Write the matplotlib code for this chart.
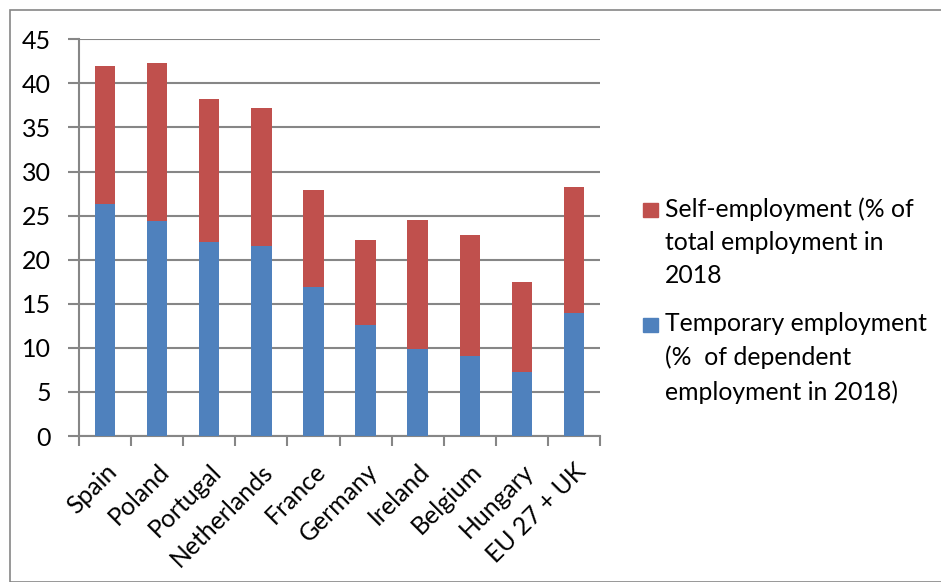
import matplotlib.pyplot as plt
from matplotlib.patches import Rectangle
import numpy as np

plt.rcParams['font.family'] = ['Lato', 'DejaVu Sans']

countries = ["Spain", "Poland", "Portugal", "Netherlands", "France",
             "Germany", "Ireland", "Belgium", "Hungary", "EU 27 + UK"]
temporary = [26.3, 24.4, 22.0, 21.6, 16.9, 12.55, 9.9, 9.05, 7.3, 13.9]
self_emp = [15.7, 17.9, 16.2, 15.65, 11.05, 9.65, 14.6, 13.75, 10.2, 14.35]

lbl_self = "Self-employment (% of\ntotal employment in\n2018"
lbl_temp = "Temporary employment\n(%  of dependent\nemployment in 2018)"

blue = "#4F81BD"
red = "#C0504D"
grey = "#868686"
W, H = 941, 582

fig = plt.figure(figsize=(W/100, H/100), dpi=100)
fig.patches.append(Rectangle((10/W, 0), 1, 1 - 10/H, transform=fig.transFigure,
                             fill=False, edgecolor=grey, linewidth=1.2))

ax = fig.add_axes([79/W, 1 - 436/H, (600 - 79)/W, (436 - 39.3)/H])

x = np.arange(len(countries))
ax.bar(x, temporary, width=0.39, color=blue, zorder=3)
ax.bar(x, self_emp, width=0.39, bottom=temporary, color=red, zorder=3)

ax.set_ylim(0, 45)
ax.set_xlim(-0.5, len(countries) - 0.5)
ax.set_yticks(range(0, 46, 5))
ax.yaxis.grid(True, color=grey, linewidth=1.5, zorder=0)

ax.set_xticks(x)
ax.set_xticklabels(countries, rotation=45, ha='right', rotation_mode='anchor', fontsize=17.8)
ax.set_xticks(np.arange(-0.5, len(countries), 1), minor=True)
ax.tick_params(axis='x', which='major', length=0, pad=17)
ax.tick_params(axis='x', which='minor', length=7, width=1.5, color=grey, direction='out')
ax.tick_params(axis='y', length=8, width=1.5, color=grey, labelsize=18, pad=12)

for s in ['top', 'right']:
    ax.spines[s].set_visible(False)
for s in ['left', 'bottom']:
    ax.spines[s].set_color(grey)
    ax.spines[s].set_linewidth(1.5)

# legend drawn by hand so the square sits on the first text line
for lbl, col, ytop, ysq in [(lbl_self, red, 197, 203), (lbl_temp, blue, 312, 318)]:
    fig.patches.append(Rectangle((643/W, 1 - (ysq + 14)/H), 15/W, 14/H,
                                 transform=fig.transFigure, color=col))
    fig.text(665/W, 1 - ytop/H, lbl, fontsize=17.8, va='top', ha='left',
             linespacing=1.55)

fig.savefig("out.png", dpi=100)
